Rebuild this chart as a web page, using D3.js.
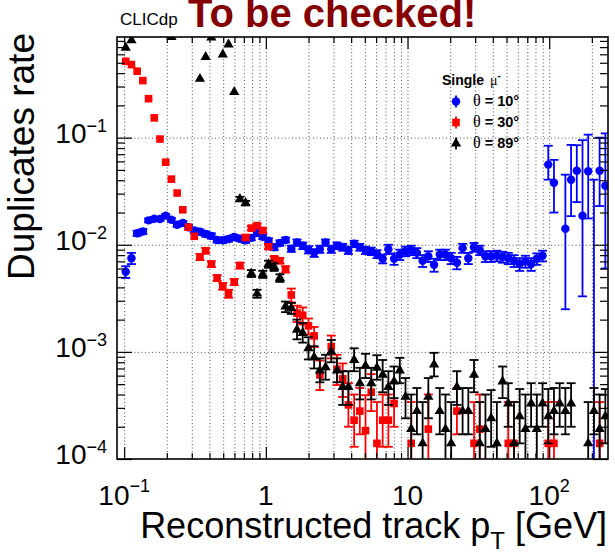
<!DOCTYPE html>
<html>
<head>
<meta charset="utf-8">
<script src="https://cdn.jsdelivr.net/npm/d3@7"></script>
<style>
  html, body { margin: 0; padding: 0; background: #fff; }
  svg { display: block; }
</style>
</head>
<body>
<svg id="chart" width="615" height="556"></svg>
<script>
// ---- binning: log-spaced pT bins shared by all three samples ----
const nBins = 85;
const logPtFirst = -0.989;   // log10 of the first bin centre [GeV]
const logPtStep = 0.0403;    // bin width in log10(pT)
const pT = d3.range(nBins).map(i => Math.pow(10, logPtFirst + i * logPtStep));

// ---- axis ticks and labels ----
const xDecades = [0.1, 1, 10, 100];
const xTickBase = ["10", "1", "10", "10"];
const xTickExp = ["\u22121", "", "", "2"];
const yDecades = [1e-4, 1e-3, 1e-2, 1e-1];
const yTickBase = ["10", "10", "10", "10"];
const yTickExp = ["\u22124", "\u22123", "\u22122", "\u22121"];

// ---- series labels ----
const seriesNames = ["\u03B8 = 10\u00B0", "\u03B8 = 30\u00B0", "\u03B8 = 89\u00B0"];
const seriesColors = ["#0000ff", "#ff0000", "#000000"];

// ---- theta = 10 deg ----
const blueRate = [
  0.0056, 0.0075, 0.0128, 0.0133, 0.0169, 0.0175, 0.0174, 0.0187, 0.0171, 0.0154,
  0.0160, 0.0146, 0.0136, 0.0132, 0.0126, 0.0121, 0.0111, 0.0110, 0.0113, 0.0118,
  0.0114, 0.0110, 0.0116, 0.0129, 0.0119, 0.0109, 0.0095, 0.0104, 0.0111, 0.0092,
  0.0105, 0.0098, 0.0090, 0.0084, 0.0091, 0.0105, 0.0091, 0.0098, 0.0095, 0.0089,
  0.0102, 0.0095, 0.0089, 0.0087, 0.0082, 0.0074, 0.0091, 0.0074, 0.0081, 0.0087,
  0.0089, 0.0084, 0.0071, 0.0078, 0.0065, 0.0081, 0.0081, 0.0075, 0.0068, 0.0093,
  0.0075, 0.0095, 0.0089, 0.0078, 0.0078, 0.0079, 0.0077, 0.0075, 0.0071, 0.0066,
  0.0070, 0.0066, 0.0074, 0.0079, 0.056, 0.038, null, 0.0141, 0.0405, 0.049,
  0.0187, 0.0486, 0, 0.049, 0.0356
];
const blueErrDown = [
  0.0007, 0.0009, 0.0007, 0.0007, 0.0007, 0.0007, 0.0007, 0.0007, 0.0007, 0.0007,
  0.0007, 0.0007, 0.0007, 0.0007, 0.0007, 0.0007, 0.0006, 0.0006, 0.0006, 0.0006,
  0.0006, 0.0006, 0.0006, 0.0006, 0.0006, 0.0006, 0.0006, 0.0006, 0.0006, 0.0006,
  0.0007, 0.0007, 0.0007, 0.0007, 0.0007, 0.0007, 0.0007, 0.0007, 0.0007, 0.0007,
  0.0007, 0.0007, 0.0007, 0.0007, 0.0007, 0.0007, 0.0009, 0.0009, 0.0009, 0.0009,
  0.0009, 0.0009, 0.0009, 0.0009, 0.0009, 0.0009, 0.0009, 0.0009, 0.0009, 0.0009,
  0.0009, 0.0009, 0.0009, 0.0009, 0.0009, 0.0009, 0.0009, 0.0009, 0.0009, 0.0009,
  0.0009, 0.0009, 0.0009, 0.0009, 0.0155, 0.018, null, 0.0116, 0.022, 0.024,
  0.0154, 0.031, 0, 0.026, 0.0296
];
const blueErrUp = [
  0.0007, 0.0009, 0.0007, 0.0007, 0.0007, 0.0007, 0.0007, 0.0007, 0.0007, 0.0007,
  0.0007, 0.0007, 0.0007, 0.0007, 0.0007, 0.0007, 0.0006, 0.0006, 0.0006, 0.0006,
  0.0006, 0.0006, 0.0006, 0.0006, 0.0006, 0.0006, 0.0006, 0.0006, 0.0006, 0.0006,
  0.0007, 0.0007, 0.0007, 0.0007, 0.0007, 0.0007, 0.0007, 0.0007, 0.0007, 0.0007,
  0.0007, 0.0007, 0.0007, 0.0007, 0.0007, 0.0007, 0.0009, 0.0009, 0.0009, 0.0009,
  0.0009, 0.0009, 0.0009, 0.0009, 0.0009, 0.0009, 0.0009, 0.0009, 0.0009, 0.0009,
  0.0009, 0.0009, 0.0009, 0.0009, 0.0009, 0.0009, 0.0009, 0.0009, 0.0009, 0.0009,
  0.0009, 0.0009, 0.0009, 0.0009, 0.028, 0.024, null, 0.031, 0.045, 0.036,
  0.076, 0.058, 0.0405, 0.051, 0.074
];

// ---- theta = 30 deg ----
const redRate = [
  0.516, 0.481, 0.417, 0.341, 0.231, 0.153, 0.097, 0.059, 0.041, 0.0304,
  0.0212, 0.0146, 0.0120, 0.0077, 0.0088, 0.0066, 0.0049, 0.0041, 0.0035, 0.0045,
  0.0064, 0.0117, 0.0143, 0.0151, 0.0136, 0.0096, 0.0074, 0.0071, 0.0059, 0.0034,
  0.0023, 0.0022, 0.00175, 0.00141, 0.00061, null, 0.00112, 0.00069, 0.00056, 0.00032,
  0.00023, 0.00028, 0.000184, 0.00042, 0.00014, 0.00023, 0.00023, 0.00033, null, null,
  0.00014, null, null, 0.00019, null, null, null, null, 0.00028, null,
  null, 0.00014, 0.00019, null, null, null, null, 0.00014, 0.00014, null,
  null, null, null, null, 0.00014, 0.00014, null, null, null, null,
  null, null, null, 0.00014, null
];
const redErrDown = [
  null, null, null, null, null, null, null, null, null, null,
  null, null, null, 0.0005, 0.0005, 0.0004, 0.0003, 0.0003, 0.0003, 0.0003,
  0.0004, 0.0006, 0.0006, 0.0006, 0.0006, 0.0005, 0.0004, 0.0004, 0.0004, 0.0005,
  0.0004, 0.0004, 0.0003, 0.0003, 0.00017, null, 0.00025, 0.0002, 0.00018, 0.00012,
  0.0001, 0.00011, 0.000184, 0.00014, 0.00014, 0.0001, 0.0001, 0.00013, null, null,
  0.00014, null, null, 0.00019, null, null, null, null, 0.00011, null,
  null, 0.00014, 0.00019, null, null, null, null, 0.00014, 0.00014, null,
  null, null, null, null, 0.00014, 0.00014, null, null, null, null,
  null, null, null, 0.00014, null
];
const redErrUp = [
  null, null, null, null, null, null, null, null, null, null,
  null, null, null, 0.0005, 0.0005, 0.0004, 0.0003, 0.0003, 0.0003, 0.0003,
  0.0004, 0.0006, 0.0006, 0.0006, 0.0006, 0.0005, 0.0004, 0.0004, 0.0004, 0.0005,
  0.0004, 0.0004, 0.0003, 0.0003, 0.00022, null, 0.0003, 0.00025, 0.00022, 0.00019,
  0.00017, 0.00018, 0.00021, 0.0002, 0.0002, 0.00017, 0.00017, 0.00019, null, null,
  0.0002, null, null, 0.00021, null, null, null, null, 0.00018, null,
  null, 0.0002, 0.00021, null, null, null, null, 0.0002, 0.0002, null,
  null, null, null, null, 0.0002, 0.0002, null, null, null, null,
  null, null, null, 0.0002, null
];

// ---- theta = 89 deg ----
const blackRate = [
  0.69, 0.81, null, null, null, null, null, null, 0.87, null,
  null, null, null, 0.354, 0.567, 0.86, null, 0.597, 0.74, 0.267,
  0.0267, 0.0245, 0.0054, 0.0035, 0.0053, 0.0066, 0.0062, 0.0049, 0.00265, 0.00256,
  0.00161, 0.0015, 0.00108, 0.00089, 0.00067, 0.00072, 0.00101, 0.00067, 0.00047, 0.00047,
  0.00084, 0.00051, 0.00074, 0.00051, 0.00071, 0.00061, 0.00047, 0.00053, 0.00067, 0.00038,
  0.00019, 0.00028, 0.00014, 0.00038, 0.00076, 0.00028, 0.00019, 0.00014, 0.00047, 0.00028,
  0.00028, 0.00061, 0.00014, 0.00019, 0.00024, 0.00014, 0.00053, 0.00033, 0.00014, 0.00025,
  0.00019, 0.00033, 0.00019, 0.00033, 0.00025, 0.00028, 0.00033, 0.00028, 0.00033, null,
  null, 0.00014, 0.00028, 0.00019, 0.00025
];
const blackErrDown = [
  null, null, null, null, null, null, null, null, null, null,
  null, null, null, null, null, null, null, null, null, null,
  0.0013, 0.0012, 0.0004, 0.0003, 0.0004, 0.0005, 0.0005, 0.0004, 0.0003, 0.0003,
  0.0003, 0.00028, 0.00023, 0.00019, 0.00015, 0.00017, 0.00021, 0.00015, 0.00015, 0.00015,
  0.00018, 0.00015, 0.00017, 0.00015, 0.00016, 0.00019, 0.00015, 0.00016, 0.00016, 0.00014,
  0.00019, 0.00011, 0.00014, 0.00014, 0.00017, 0.00011, 0.00019, 0.00014, 0.00015, 0.00011,
  0.00011, 0.00019, 0.00014, 0.00019, 0.00011, 0.00014, 0.00016, 0.00013, 0.00014, 0.00011,
  0.00019, 0.00013, 0.00019, 0.00013, 0.00011, 0.00011, 0.00013, 0.00011, 0.00013, null,
  null, 0.00014, 0.00011, 0.00019, 0.00011
];
const blackErrUp = [
  null, null, null, null, null, null, null, null, null, null,
  null, null, null, null, null, null, null, null, null, null,
  0.0013, 0.0012, 0.0004, 0.0003, 0.0004, 0.0005, 0.0005, 0.0004, 0.0003, 0.0003,
  0.00039, 0.00036, 0.00029, 0.00024, 0.0002, 0.00022, 0.00028, 0.0002, 0.00019, 0.00019,
  0.00024, 0.0002, 0.00022, 0.0002, 0.00022, 0.00023, 0.00019, 0.0002, 0.00021, 0.00019,
  0.00021, 0.00018, 0.0002, 0.00019, 0.00022, 0.00018, 0.00021, 0.0002, 0.00019, 0.00018,
  0.00018, 0.00023, 0.0002, 0.00021, 0.0002, 0.0002, 0.0002, 0.00018, 0.0002, 0.0002,
  0.00021, 0.00018, 0.00021, 0.00018, 0.0002, 0.00018, 0.00018, 0.00018, 0.00018, null,
  null, 0.0002, 0.00018, 0.00021, 0.0002
];

// ---- layout ----
const frame = { left: 117, right: 608, top: 37, bottom: 459 };
const sans = "'Liberation Sans', Arial, Helvetica, sans-serif";
const serif = "'Liberation Serif', 'DejaVu Serif', serif";

const x = d3.scaleLog().domain([0.089, 260]).range([frame.left, frame.right]);
const y = d3.scaleLog().domain([1e-4, 0.87]).range([frame.bottom, frame.top]);

const svg = d3.select("#chart");
svg.append("rect").attr("width", 615).attr("height", 556).attr("fill", "#fff");

const plotH = frame.bottom - frame.top;
const plotW = frame.right - frame.left;

// tick positions: 1..9 times each decade inside the axis range
const xAllTicks = [];
xDecades.forEach(d => d3.range(1, 10).forEach(m => { const v = d * m; if (v >= x.domain()[0] && v <= x.domain()[1]) xAllTicks.push(v); }));
const xMinorTicks = xAllTicks.filter(v => !xDecades.includes(v));
const yAllTicks = [];
yDecades.forEach(d => d3.range(1, 10).forEach(m => { const v = d * m; if (v >= y.domain()[0] && v <= y.domain()[1]) yAllTicks.push(v); }));
const yMinorTicks = yAllTicks.filter(v => !yDecades.some(d => Math.abs(d - v) / d < 1e-9));

// ---- grid ----
const gridStyle = g => g.call(s => s.select(".domain").remove())
  .selectAll("line").attr("stroke", "#555").attr("stroke-width", 1).attr("stroke-dasharray", "1 2.5");

svg.append("g")
  .attr("transform", `translate(0,${frame.bottom})`)
  .call(d3.axisBottom(x).tickValues(xAllTicks).tickSize(-plotH).tickFormat(""))
  .call(gridStyle);

svg.append("g")
  .attr("transform", `translate(${frame.left},0)`)
  .call(d3.axisLeft(y).tickValues(yDecades.slice(1)).tickSize(-plotW).tickFormat(""))
  .call(gridStyle);

// ---- data ----
svg.append("clipPath").attr("id", "plot-clip")
  .append("rect").attr("x", frame.left).attr("y", frame.top).attr("width", plotW).attr("height", plotH);
const dataG = svg.append("g").attr("clip-path", "url(#plot-clip)");

function buildPoints(rate, down, up) {
  return pT.map((p, i) => ({ p, v: rate[i], lo: down[i], hi: up[i] }))
    .filter(d => d.v !== null && d.v !== undefined);
}

const series = [
  { pts: buildPoints(blueRate, blueErrDown, blueErrUp), color: seriesColors[0], shape: "circle" },
  { pts: buildPoints(redRate, redErrDown, redErrUp), color: seriesColors[1], shape: "square" },
  { pts: buildPoints(blackRate, blackErrDown, blackErrUp), color: seriesColors[2], shape: "triangle" }
];

const capHalf = 4.5;
const markerSym = {
  circle: d3.symbol(d3.symbolCircle, 56)(),
  square: d3.symbol(d3.symbolSquare, 58)(),
  triangle: d3.symbol(d3.symbolTriangle, 46)()
};

series.forEach(s => {
  const g = dataG.append("g");
  const withErr = s.pts.filter(d => d.hi !== null && d.hi !== undefined);
  // vertical error bars with end caps
  withErr.forEach(d => {
    const cx = x(d.p);
    const top = y(d.v + d.hi);
    const lowVal = d.v - d.lo;
    const bottom = lowVal > 0 ? y(lowVal) : frame.bottom + 20;
    g.append("line").attr("x1", cx).attr("x2", cx).attr("y1", top).attr("y2", bottom)
      .attr("stroke", s.color).attr("stroke-width", 1.8);
    g.append("line").attr("x1", cx - capHalf).attr("x2", cx + capHalf).attr("y1", top).attr("y2", top)
      .attr("stroke", s.color).attr("stroke-width", 1.8);
    if (lowVal > 0) {
      g.append("line").attr("x1", cx - capHalf).attr("x2", cx + capHalf).attr("y1", bottom).attr("y2", bottom)
        .attr("stroke", s.color).attr("stroke-width", 1.8);
    }
  });
  // markers
  g.selectAll("path.m").data(s.pts.filter(d => d.v > 0)).join("path")
    .attr("class", "m")
    .attr("d", markerSym[s.shape])
    .attr("transform", d => `translate(${x(d.p)},${y(d.v)})`)
    .attr("fill", s.color);
});

// ---- axis ticks (inside the frame, on all four sides) ----
const tickStyle = g => g.call(s => s.select(".domain").remove())
  .selectAll("line").attr("stroke", "#000").attr("stroke-width", 1.2);

svg.append("g").attr("transform", `translate(0,${frame.bottom})`)
  .call(d3.axisBottom(x).tickValues(xDecades).tickSize(-12).tickFormat("")).call(tickStyle);
svg.append("g").attr("transform", `translate(0,${frame.bottom})`)
  .call(d3.axisBottom(x).tickValues(xMinorTicks).tickSize(-6).tickFormat("")).call(tickStyle);
svg.append("g").attr("transform", `translate(0,${frame.top})`)
  .call(d3.axisTop(x).tickValues(xDecades).tickSize(-12).tickFormat("")).call(tickStyle);
svg.append("g").attr("transform", `translate(0,${frame.top})`)
  .call(d3.axisTop(x).tickValues(xMinorTicks).tickSize(-6).tickFormat("")).call(tickStyle);
svg.append("g").attr("transform", `translate(${frame.left},0)`)
  .call(d3.axisLeft(y).tickValues(yDecades).tickSize(-15).tickFormat("")).call(tickStyle);
svg.append("g").attr("transform", `translate(${frame.left},0)`)
  .call(d3.axisLeft(y).tickValues(yMinorTicks).tickSize(-8).tickFormat("")).call(tickStyle);
svg.append("g").attr("transform", `translate(${frame.right},0)`)
  .call(d3.axisRight(y).tickValues(yDecades).tickSize(-15).tickFormat("")).call(tickStyle);
svg.append("g").attr("transform", `translate(${frame.right},0)`)
  .call(d3.axisRight(y).tickValues(yMinorTicks).tickSize(-8).tickFormat("")).call(tickStyle);

// frame
svg.append("rect")
  .attr("x", frame.left).attr("y", frame.top).attr("width", plotW).attr("height", plotH)
  .attr("fill", "none").attr("stroke", "#000").attr("stroke-width", 1.6);

// ---- tick labels ----
const xLab = svg.append("g").attr("font-family", sans).attr("fill", "#000");
xDecades.forEach((d, i) => {
  const t = xLab.append("text").attr("x", x(d)).attr("y", 505).attr("text-anchor", "middle")
    .attr("font-size", 28);
  t.append("tspan").text(xTickBase[i]);
  if (xTickExp[i]) t.append("tspan").attr("font-size", 18).attr("dy", -13).text(xTickExp[i]);
});

const yLab = svg.append("g").attr("font-family", sans).attr("fill", "#000");
yDecades.forEach((d, i) => {
  const t = yLab.append("text").attr("x", 107).attr("y", y(d) + 5).attr("text-anchor", "end")
    .attr("font-size", 28);
  t.append("tspan").text(yTickBase[i]);
  t.append("tspan").attr("font-size", 18).attr("dy", -11).text(yTickExp[i]);
});

// ---- axis titles ----
const xt = svg.append("text").attr("x", 607).attr("y", 538).attr("text-anchor", "end")
  .attr("font-family", sans).attr("font-size", 36);
xt.append("tspan").text("Reconstructed track p");
xt.append("tspan").attr("font-size", 24).attr("dy", 11).text("T");
xt.append("tspan").attr("dy", -11).text(" [GeV]");

svg.append("text")
  .attr("transform", "translate(34,33) rotate(-90)")
  .attr("text-anchor", "end")
  .attr("font-family", sans).attr("font-size", 36)
  .attr("textLength", 247).attr("lengthAdjust", "spacingAndGlyphs")
  .text("Duplicates rate");

// ---- header ----
svg.append("text").attr("x", 120).attr("y", 25)
  .attr("font-family", sans).attr("font-size", 17).text("CLICdp");
svg.append("text").attr("x", 188).attr("y", 27)
  .attr("font-family", sans).attr("font-size", 40).attr("font-weight", "bold")
  .attr("fill", "#850000").text("To be checked!");

// ---- legend ----
const leg = svg.append("g");
const head = leg.append("text").attr("x", 442).attr("y", 85)
  .attr("font-family", sans).attr("font-size", 14).attr("font-weight", "bold");
head.append("tspan").text("Single ");
head.append("tspan").attr("font-family", serif).attr("font-weight", "normal").attr("dx", 2).text("\u03BC");
head.append("tspan").attr("font-size", 10).attr("dy", -6).text("-");

const legShapes = ["circle", "square", "triangle"];
seriesNames.forEach((name, i) => {
  const cy = 101.5 + i * 21;
  leg.append("line").attr("x1", 456).attr("x2", 456).attr("y1", cy - 6).attr("y2", cy + 6)
    .attr("stroke", seriesColors[i]).attr("stroke-width", 1.8);
  leg.append("path").attr("d", markerSym[legShapes[i]])
    .attr("transform", `translate(456,${cy})`).attr("fill", seriesColors[i]);
  const t = leg.append("text").attr("x", 473).attr("y", cy + 4.5)
    .attr("font-family", sans).attr("font-size", 14.5).attr("font-weight", "bold");
  t.append("tspan").attr("font-family", serif).attr("font-weight", "normal").attr("font-size", 16).text(name.slice(0, 1));
  t.append("tspan").text(name.slice(1));
});
</script>
</body>
</html>
